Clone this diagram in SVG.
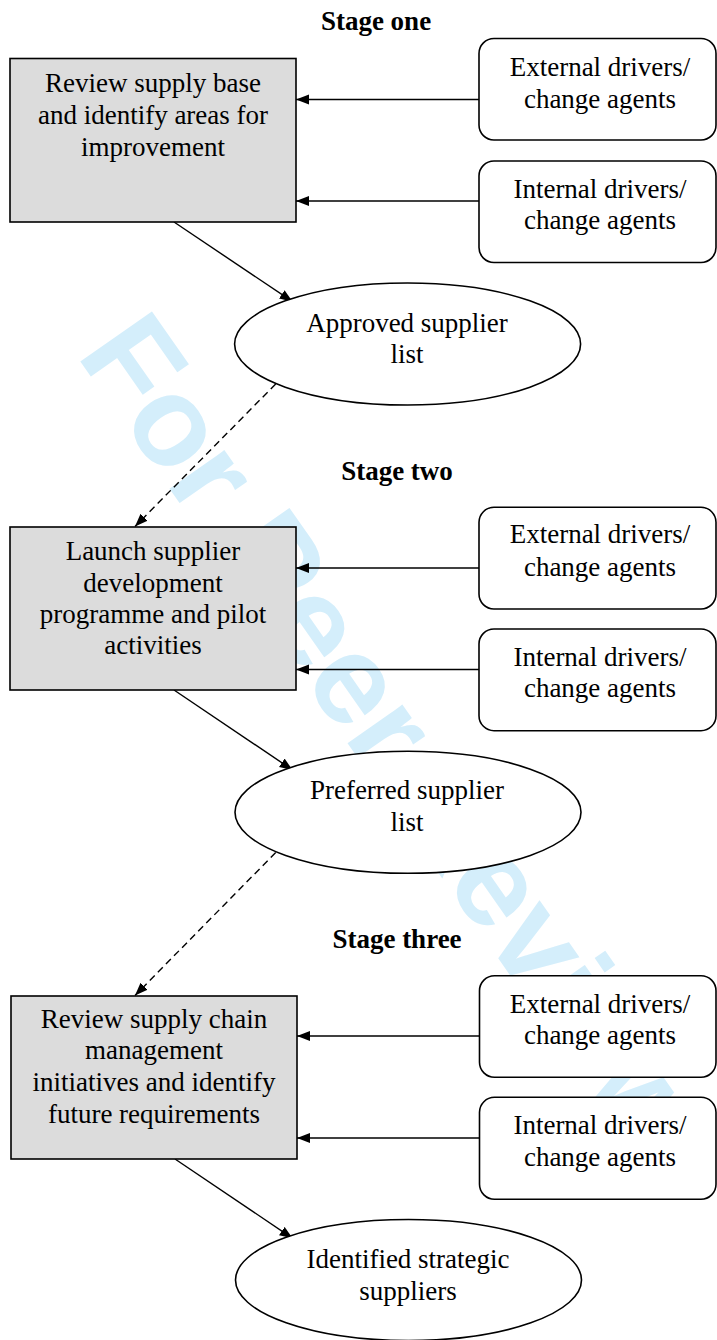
<svg xmlns="http://www.w3.org/2000/svg" width="717" height="1340" viewBox="0 0 717 1340">
<defs>
<style>
.t{font-family:"Liberation Serif","Times New Roman",serif;font-size:27px;fill:#000;text-anchor:middle}
.st{font-family:"Liberation Serif","Times New Roman",serif;font-size:27px;font-weight:bold;fill:#000;text-anchor:middle}
.box{fill:#dcdcdc;stroke:#000;stroke-width:1.6}
.drv{fill:#fff;stroke:#000;stroke-width:1.6}
.ell{fill:#fff;stroke:#000;stroke-width:1.6}
.ln{fill:none;stroke:#000;stroke-width:1.4;marker-end:url(#ah)}
.dash{fill:none;stroke:#000;stroke-width:1.4;stroke-dasharray:7,4.5;marker-end:url(#ah)}
.wm{font-family:"Liberation Sans",Arial,sans-serif;font-size:127px;font-weight:bold;fill:#d4eefb}
</style>
<marker id="ah" markerUnits="userSpaceOnUse" markerWidth="14" markerHeight="11" refX="13" refY="5" orient="auto">
<path d="M0,0 L13,5 L0,10 z" fill="#000"/>
</marker>
</defs>
<rect width="717" height="1340" fill="#fff"/>
<text class="wm" transform="translate(75.4,354.4) rotate(55)">For Peer Review</text>

<text class="st" x="376" y="30">Stage one</text>
<text class="st" x="397" y="480">Stage two</text>
<text class="st" x="397" y="948">Stage three</text>

<g id="connectors">
<line class="ln" x1="479" y1="99.5" x2="296" y2="99.5"/>
<line class="ln" x1="479" y1="201" x2="296" y2="201"/>
<line class="ln" x1="174" y1="222" x2="292.6" y2="301.7"/>
<line class="dash" x1="275.7" y1="384" x2="135" y2="526.5"/>
<line class="ln" x1="479" y1="568" x2="296" y2="568"/>
<line class="ln" x1="479" y1="669.5" x2="296" y2="669.5"/>
<line class="ln" x1="174" y1="690" x2="292.6" y2="770"/>
<line class="dash" x1="275.7" y1="852.5" x2="135" y2="995.5"/>
<line class="ln" x1="479" y1="1036" x2="297" y2="1036"/>
<line class="ln" x1="479" y1="1138" x2="297" y2="1138"/>
<line class="ln" x1="175" y1="1159" x2="292.6" y2="1238.3"/>
</g>

<g id="stage1-review">
<rect class="box" x="10" y="58.5" width="286" height="163.5"/>
<text class="t" x="153" y="91.7">Review supply base</text>
<text class="t" x="153" y="124">and identify areas for</text>
<text class="t" x="153" y="156">improvement</text>
</g>
<g id="stage1-external">
<rect class="drv" x="479" y="38.5" width="237" height="101.5" rx="15" ry="15"/>
<text class="t" x="600" y="76">External drivers/</text>
<text class="t" x="600" y="107.5">change agents</text>
</g>
<g id="stage1-internal">
<rect class="drv" x="479" y="161" width="237" height="101.5" rx="15" ry="15"/>
<text class="t" x="600" y="197.7">Internal drivers/</text>
<text class="t" x="600" y="229">change agents</text>
</g>
<g id="stage1-approved">
<ellipse class="ell" cx="407.6" cy="344" rx="173" ry="61"/>
<text class="t" x="407" y="331.7">Approved supplier</text>
<text class="t" x="407" y="363">list</text>
</g>

<g id="stage2-launch">
<rect class="box" x="10" y="527" width="286" height="163"/>
<text class="t" x="153" y="560">Launch supplier</text>
<text class="t" x="153" y="591.7">development</text>
<text class="t" x="153" y="622.7">programme and pilot</text>
<text class="t" x="153" y="654">activities</text>
</g>
<g id="stage2-external">
<rect class="drv" x="479" y="507.3" width="237" height="101.7" rx="15" ry="15"/>
<text class="t" x="600" y="543.3">External drivers/</text>
<text class="t" x="600" y="575.7">change agents</text>
</g>
<g id="stage2-internal">
<rect class="drv" x="479" y="629" width="237" height="101.7" rx="15" ry="15"/>
<text class="t" x="600" y="666">Internal drivers/</text>
<text class="t" x="600" y="697.3">change agents</text>
</g>
<g id="stage2-preferred">
<ellipse class="ell" cx="408" cy="812.3" rx="173" ry="61"/>
<text class="t" x="407" y="799.3">Preferred supplier</text>
<text class="t" x="407" y="830.7">list</text>
</g>

<g id="stage3-review">
<rect class="box" x="11" y="996" width="286" height="163"/>
<text class="t" x="154" y="1028.3">Review supply chain</text>
<text class="t" x="154" y="1059.3">management</text>
<text class="t" x="154" y="1090.7">initiatives and identify</text>
<text class="t" x="154" y="1123.3">future requirements</text>
</g>
<g id="stage3-external">
<rect class="drv" x="479.5" y="975.7" width="236.5" height="101.6" rx="15" ry="15"/>
<text class="t" x="600" y="1012.7">External drivers/</text>
<text class="t" x="600" y="1044.3">change agents</text>
</g>
<g id="stage3-internal">
<rect class="drv" x="479.5" y="1097.3" width="236.5" height="102" rx="15" ry="15"/>
<text class="t" x="600" y="1134.3">Internal drivers/</text>
<text class="t" x="600" y="1166">change agents</text>
</g>
<g id="stage3-identified">
<ellipse class="ell" cx="408.5" cy="1280" rx="173" ry="60.5"/>
<text class="t" x="408" y="1268.3">Identified strategic</text>
<text class="t" x="408" y="1300">suppliers</text>
</g>
</svg>
